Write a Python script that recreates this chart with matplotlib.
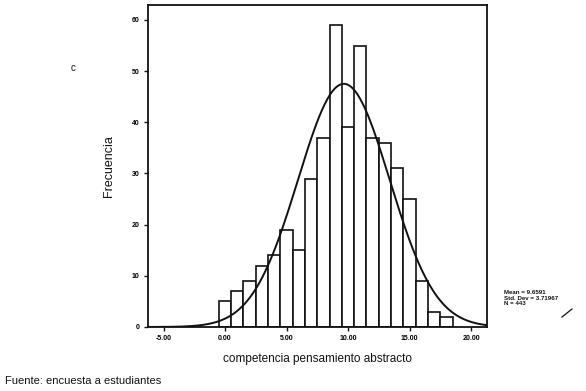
import matplotlib.pyplot as plt
import numpy as np

# histogram of "competencia pensamiento abstracto" (bins of width 1)
bin_centers = [0, 1, 2, 3, 4, 5, 6, 7, 8, 9, 10, 11, 12, 13, 14, 15, 16, 17, 18]
counts = [5, 7, 9, 12, 14, 19, 15, 29, 37, 59, 39, 55, 37, 36, 31, 25, 9, 3, 2]
mean, std_dev, n = 9.6591, 3.71967, 443

x_ticks = [-5, 0, 5, 10, 15, 20]
y_ticks = [0, 10, 20, 30, 40, 50, 60]

INK = "#111111"

plt.rcParams.update({
    "font.family": ["Liberation Sans", "DejaVu Sans"],
    "axes.linewidth": 1.3,
})

fig = plt.figure(figsize=(5.86, 3.91), dpi=100)
ax = fig.add_axes([0.2526, 0.1637, 0.5785, 0.8233])

ax.bar(bin_centers, counts, width=1.0, color="white", edgecolor=INK,
       linewidth=1.2, zorder=2)

# fitted normal curve (SPSS style)
xs = np.linspace(-6.26, 21.3, 400)
ys = n * np.exp(-0.5 * ((xs - mean) / std_dev) ** 2) / (std_dev * np.sqrt(2 * np.pi))
ax.plot(xs, ys, color=INK, lw=1.4, zorder=3)

ax.set_xlim(-6.26, 21.3)
ax.set_ylim(0, 62.9)
ax.set_xticks(x_ticks)
ax.set_xticklabels([f"{v:.2f}" for v in x_ticks], fontsize=5,
                   fontweight="bold")
ax.set_yticks(y_ticks)
ax.set_yticklabels([str(v) for v in y_ticks], fontsize=5, fontweight="bold")
ax.tick_params(length=3, width=1, color=INK, pad=3)
for s in ax.spines.values():
    s.set_color(INK)

ax.set_ylabel("Frecuencia", fontsize=9, color=INK, labelpad=12)
ax.set_xlabel("competencia pensamiento abstracto", fontsize=8.5, color=INK,
              labelpad=8)

fig.text(504 / 586, 1 - 298 / 391,
         f"Mean = {mean}\nStd. Dev = {std_dev}\nN = {n}",
         fontsize=4.4, fontweight="bold", va="center", ha="left",
         linespacing=1.2, color=INK)
fig.add_artist(plt.Line2D([562 / 586, 572 / 586], [1 - 317 / 391, 1 - 309 / 391],
                          color=INK, lw=0.9))

fig.text(73 / 586, 1 - 68 / 391, "c", fontsize=7, color=INK, ha="center",
         va="center")
fig.text(5 / 586, 1 - 381 / 391, "Fuente: encuesta a estudiantes",
         fontsize=8, color=INK, ha="left", va="center")

fig.savefig("out.png", dpi=100)
